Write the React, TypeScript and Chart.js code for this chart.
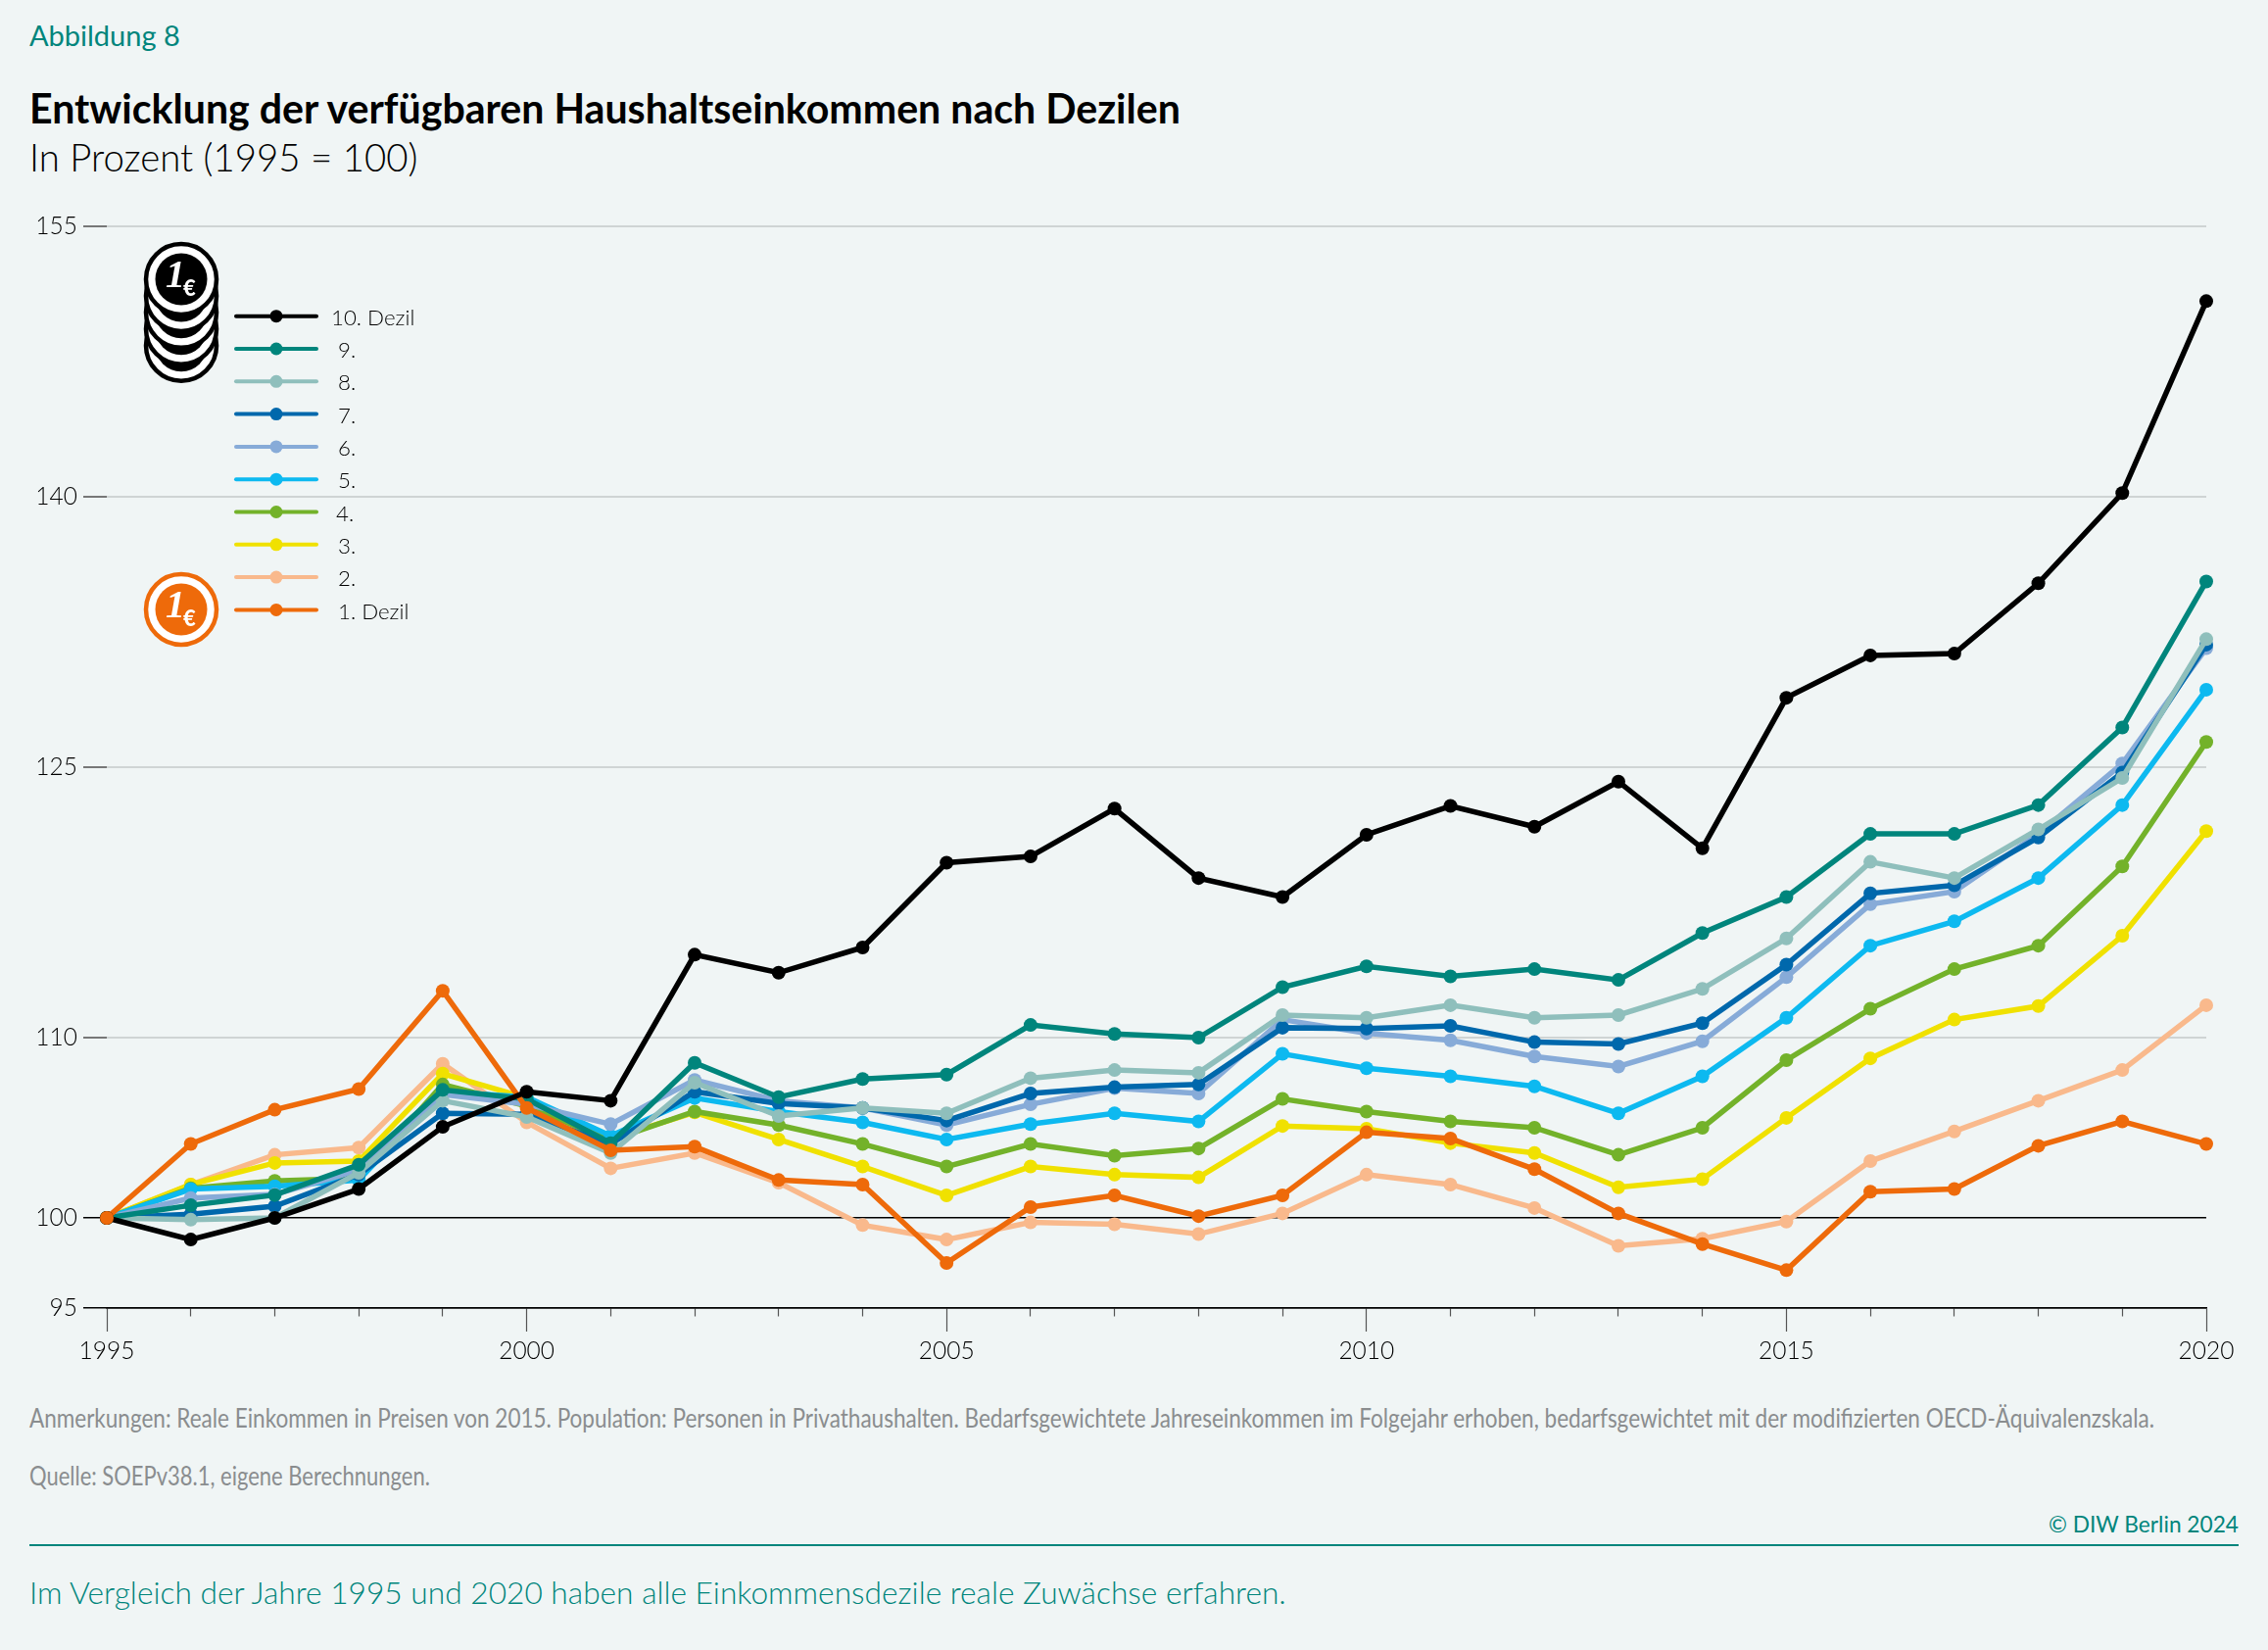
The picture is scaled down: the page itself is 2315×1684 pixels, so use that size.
import { useEffect, useRef } from 'react'
import { Chart, registerables, type Plugin } from 'chart.js'

Chart.register(...registerables)

const years = [
  1995, 1996, 1997, 1998, 1999, 2000, 2001, 2002, 2003, 2004, 2005, 2006, 2007,
  2008, 2009, 2010, 2011, 2012, 2013, 2014, 2015, 2016, 2017, 2018, 2019, 2020,
]
const yTicks = [95, 100, 110, 125, 140, 155]

const decile10 = [100, 98.8, 100, 101.6, 105.05, 107, 106.5, 114.6, 113.6, 115, 119.7, 120.05, 122.7, 118.85, 117.8, 121.25, 122.85, 121.7, 124.2, 120.5, 128.85, 131.2, 131.3, 135.2, 140.2, 150.85]
const decile9 = [100, 100.7, 101.27, 102.95, 107.1, 106.6, 104.15, 108.6, 106.7, 107.7, 107.95, 110.7, 110.2, 110, 112.8, 113.95, 113.4, 113.8, 113.2, 115.8, 117.8, 121.3, 121.3, 122.9, 127.2, 135.3]
const decile8 = [100, 99.9, 100, 102.5, 106.5, 105.6, 103.6, 107.5, 105.65, 106.1, 105.8, 107.75, 108.2, 108.05, 111.25, 111.1, 111.8, 111.1, 111.25, 112.7, 115.5, 119.75, 118.85, 121.55, 124.4, 132.1]
const decile7 = [100, 100.2, 100.65, 102.4, 105.8, 105.75, 104.1, 107, 106.35, 106.1, 105.4, 106.9, 107.25, 107.4, 110.55, 110.5, 110.65, 109.75, 109.65, 110.8, 114.05, 118, 118.45, 121.1, 124.7, 131.8]
const decile6 = [100, 101.1, 101.3, 102.65, 106.85, 106.3, 105.2, 107.65, 106.5, 106.1, 105.15, 106.3, 107.2, 106.9, 111, 110.25, 109.85, 108.95, 108.4, 109.8, 113.35, 117.4, 118.1, 121.3, 125.2, 131.6]
const decile5 = [100, 101.6, 101.75, 102.1, 107, 106.7, 104.55, 106.65, 105.9, 105.3, 104.35, 105.2, 105.8, 105.35, 109.1, 108.3, 107.85, 107.3, 105.8, 107.85, 111.1, 115.1, 116.45, 118.85, 122.9, 129.3]
const decile4 = [100, 101.65, 102.05, 102.2, 107.4, 106.2, 104.3, 105.9, 105.15, 104.1, 102.85, 104.1, 103.45, 103.85, 106.6, 105.9, 105.35, 105, 103.5, 105, 108.75, 111.6, 113.8, 115.1, 119.5, 126.4]
const decile3 = [100, 101.85, 103.05, 103.15, 108, 106.65, 104.4, 105.85, 104.35, 102.85, 101.25, 102.85, 102.4, 102.25, 105.1, 104.95, 104.15, 103.6, 101.7, 102.15, 105.55, 108.85, 111, 111.75, 115.65, 121.45]
const decile2 = [100, 101.85, 103.5, 103.9, 108.55, 105.3, 102.75, 103.6, 101.95, 99.6, 98.8, 99.75, 99.65, 99.1, 100.25, 102.4, 101.85, 100.55, 98.45, 98.85, 99.8, 103.15, 104.8, 106.5, 108.2, 111.8]
const decile1 = [100, 104.1, 106, 107.15, 112.6, 106.1, 103.75, 103.95, 102.1, 101.85, 97.5, 100.6, 101.25, 100.1, 101.25, 104.75, 104.4, 102.7, 100.25, 98.55, 97.1, 101.45, 101.6, 104, 105.35, 104.1]

const BACKGROUND = '#f0f5f5'
const TEAL = '#00857c'
const FONT = 'Lato, "Open Sans", sans-serif'

// legend order, top to bottom; `order` is the stacking (lower is drawn on top)
const series = [
  { label: '10. Dezil', data: decile10, color: '#000000', order: 0, textX: 338 },
  { label: '9.', data: decile9, color: '#00857c', order: 2, textX: 345 },
  { label: '8.', data: decile8, color: '#8fbfbc', order: 3, textX: 345 },
  { label: '7.', data: decile7, color: '#0068ac', order: 4, textX: 345 },
  { label: '6.', data: decile6, color: '#87abd8', order: 5, textX: 345 },
  { label: '5.', data: decile5, color: '#0db9f0', order: 6, textX: 345 },
  { label: '4.', data: decile4, color: '#73b22a', order: 7, textX: 343 },
  { label: '3.', data: decile3, color: '#f0e100', order: 8, textX: 345 },
  { label: '2.', data: decile2, color: '#f9b98c', order: 9, textX: 345 },
  { label: '1. Dezil', data: decile1, color: '#ee6a0a', order: 1, textX: 345 },
]

const legendPlugin: Plugin<'line'> = {
  id: 'decileLegend',
  afterDraw(chart) {
    const ctx = chart.ctx
    ctx.save()
    ctx.textBaseline = 'middle'
    ctx.font = `300 22.3px ${FONT}`
    series.forEach((s, i) => {
      const y = 322.7 + i * 33.3
      ctx.strokeStyle = s.color
      ctx.fillStyle = s.color
      ctx.lineWidth = 4
      ctx.lineCap = 'round'
      ctx.beginPath()
      ctx.moveTo(241, y)
      ctx.lineTo(323, y)
      ctx.stroke()
      ctx.beginPath()
      ctx.arc(282, y, 6.5, 0, Math.PI * 2)
      ctx.fill()
      ctx.fillStyle = '#000000'
      ctx.fillText(s.label, s.textX, y + 2)
    })
    ctx.restore()
  },
}

// in the reference the lowest decile's first dot sits on top of the black line
const firstDotPlugin: Plugin<'line'> = {
  id: 'firstDot',
  afterDatasetsDraw(chart) {
    const index = series.findIndex((s) => s.data === decile1)
    chart.getDatasetMeta(index).data[0].draw(chart.ctx)
  },
}

function CoinFace({ color, cy }: { color: string; cy: number }) {
  return (
    <g>
      <circle cx={185} cy={cy} r={36} fill="#ffffff" stroke={color} strokeWidth={4.5} />
      <circle cx={185} cy={cy} r={26.5} fill={color} />
    </g>
  )
}

function CoinText({ cy }: { cy: number }) {
  return (
    <g transform={`translate(185 ${cy})`} fill="#ffffff">
      <text x={-16} y={8} fontFamily='"Liberation Serif", serif' fontStyle="italic" fontWeight={700} fontSize={40}>
        1
      </text>
      <text x={2} y={17} fontFamily={FONT} fontWeight={900} fontSize={22}>
        €
      </text>
    </g>
  )
}

function CoinStack() {
  return (
    <svg width={300} height={500} viewBox="0 200 300 500" style={{ position: 'absolute', left: 0, top: 200, overflow: 'visible' }}>
      {[352.7, 335.7, 318.8, 301.9, 285].map((cy) => (
        <CoinFace key={cy} color="#000000" cy={cy} />
      ))}
      <CoinText cy={285} />
      <CoinFace color="#ee6a0a" cy={622} />
      <CoinText cy={622} />
    </svg>
  )
}

function Label(props: { x: number; y: number; size: number; color: string; weight?: number; squeeze?: number; right?: boolean; children: string }) {
  const { x, y, size, color, weight = 400, squeeze = 1, right, children } = props
  return (
    <div
      style={{
        position: 'absolute',
        left: right ? undefined : x,
        right: right ? 2315 - x : undefined,
        top: y,
        transform: `translateY(-50%) scaleX(${squeeze})`,
        transformOrigin: right ? 'right center' : 'left center',
        whiteSpace: 'nowrap',
        fontFamily: FONT,
        fontSize: size,
        fontWeight: weight,
        color,
        lineHeight: 1,
      }}
    >
      {children}
    </div>
  )
}

export default function App() {
  const canvasRef = useRef<HTMLCanvasElement | null>(null)

  useEffect(() => {
    const canvas = canvasRef.current
    if (!canvas) {
      return
    }

    const chart = new Chart(canvas, {
      type: 'line',
      data: {
        labels: years.map(String),
        datasets: series.map((s) => ({
          label: s.label,
          data: s.data,
          order: s.order,
          borderColor: s.color,
          backgroundColor: s.color,
          pointBackgroundColor: s.color,
          pointBorderWidth: 0,
          pointRadius: 7,
          borderWidth: 5.5,
          tension: 0,
          clip: false,
        })),
      },
      options: {
        responsive: false,
        animation: false,
        devicePixelRatio: 1,
        layout: { padding: { top: 231, right: 63, left: 0, bottom: 0 } },
        plugins: { legend: { display: false }, tooltip: { enabled: false } },
        scales: {
          x: {
            type: 'category',
            offset: false,
            afterFit: (scale) => {
              scale.height = 66
            },
            border: { color: '#000000', width: 1.5 },
            grid: {
              drawOnChartArea: false,
              tickLength: 24,
              tickWidth: 1.2,
              tickColor: '#555555',
              tickBorderDash: (ctx) => (Number(years[ctx.index]) % 5 === 0 ? [] : [8, 100]),
            },
            ticks: {
              autoSkip: false,
              maxRotation: 0,
              padding: 5,
              color: '#000000',
              font: { family: FONT, size: 24.5, weight: 300 },
              callback: (_value, index) => (years[index] % 5 === 0 ? String(years[index]) : ''),
            },
          },
          y: {
            type: 'linear',
            min: 95,
            max: 155,
            afterFit: (scale) => {
              scale.width = 109
            },
            afterBuildTicks: (scale) => {
              scale.ticks = yTicks.map((value) => ({ value }))
            },
            border: { display: false },
            grid: {
              tickLength: 24,
              tickColor: (ctx) => (ctx.tick.value <= 100 ? '#000000' : '#777777'),
              color: (ctx) => (ctx.tick.value <= 100 ? '#000000' : '#cfd4d4'),
              lineWidth: (ctx) => (ctx.tick.value <= 100 ? 1.5 : 2),
            },
            ticks: {
              padding: 6,
              color: '#000000',
              font: { family: FONT, size: 24.5, weight: 300 },
              callback: (value) => String(value),
            },
          },
        },
      },
      plugins: [firstDotPlugin, legendPlugin],
    })

    return () => {
      chart.destroy()
    }
  }, [])

  return (
    <div style={{ position: 'absolute', left: 0, top: 0, width: 2315, height: 1684, overflow: 'hidden', background: BACKGROUND }}>
      <Label x={30} y={35} size={29} color={TEAL}>Abbildung 8</Label>
      <Label x={30} y={111} size={41.1} color="#000000" weight={700}>Entwicklung der verfügbaren Haushaltseinkommen nach Dezilen</Label>
      <Label x={30} y={160} size={38.4} color="#000000" weight={300}>In Prozent (1995 = 100)</Label>
      <canvas ref={canvasRef} width={2315} height={1401} style={{ position: 'absolute', left: 0, top: 0, display: 'block' }} />
      <CoinStack />
      <Label x={30} y={1447} size={26} color="#8a8d8f" squeeze={0.866}>Anmerkungen: Reale Einkommen in Preisen von 2015. Population: Personen in Privathaushalten. Bedarfsgewichtete Jahreseinkommen im Folgejahr erhoben, bedarfsgewichtet mit der modifizierten OECD-Äquivalenzskala.</Label>
      <Label x={30} y={1506} size={26} color="#8a8d8f" squeeze={0.845}>Quelle: SOEPv38.1, eigene Berechnungen.</Label>
      <Label x={2285} y={1556} size={22.7} color={TEAL} right>© DIW Berlin 2024</Label>
      <div style={{ position: 'absolute', left: 30, top: 1576, width: 2255, height: 2, background: TEAL }} />
      <Label x={30} y={1626} size={31.7} color={TEAL} weight={300}>Im Vergleich der Jahre 1995 und 2020 haben alle Einkommensdezile reale Zuwächse erfahren.</Label>
    </div>
  )
}
